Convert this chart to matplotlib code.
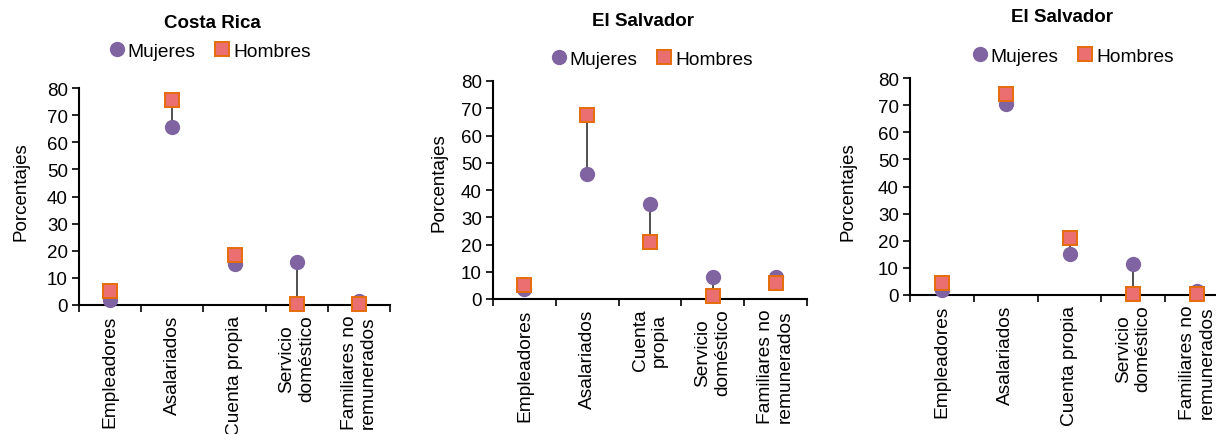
import matplotlib
matplotlib.use("Agg")
import matplotlib.pyplot as plt
from matplotlib.lines import Line2D

plt.rcParams['font.family'] = ['Liberation Sans', 'DejaVu Sans']

# data
categorias_cr = ["Empleadores", "Asalariados", "Cuenta propia", "Servicio\ndoméstico", "Familiares no\nremunerados"]
categorias_es1 = ["Empleadores", "Asalariados", "Cuenta\npropia", "Servicio\ndoméstico", "Familiares no\nremunerados"]
categorias_es2 = ["Empleadores", "Asalariados", "Cuenta propia", "Servicio\ndoméstico", "Familiares no\nremunerados"]

mujeres_cr = [2.0, 65.5, 15.0, 16.0, 1.5]
hombres_cr = [5.0, 75.5, 18.5, 0.5, 0.5]

mujeres_es1 = [3.5, 46.0, 35.0, 8.0, 8.0]
hombres_es1 = [5.0, 67.5, 21.0, 1.0, 6.0]

mujeres_es2 = [2.0, 70.5, 15.0, 11.5, 1.5]
hombres_es2 = [4.5, 74.0, 21.0, 0.5, 0.5]

titulos = ["Costa Rica", "El Salvador", "El Salvador"]
yticks = [0, 10, 20, 30, 40, 50, 60, 70, 80]

C_MUJ = '#8064A2'
C_HOM = '#EB6F70'
C_HOM_EDGE = '#E46C0A'

W, H = 1216, 435
fig = plt.figure(figsize=(W / 100, H / 100), dpi=100)

# panel layout in pixels: left, right, top(y=80), bottom(y=0)
layout = [
    dict(l=79, r=390, t=89, b=306, title=(212, 23), leg=(210, 52), ylab=(21, 192)),
    dict(l=493, r=807, t=82, b=300, title=(643, 21), leg=(652, 60), ylab=(439, 183)),
    dict(l=910, r=1229, t=79, b=296, title=(1062, 17), leg=(1073, 57), ylab=(848, 192)),
]
series = [
    (categorias_cr, mujeres_cr, hombres_cr),
    (categorias_es1, mujeres_es1, hombres_es1),
    (categorias_es2, mujeres_es2, hombres_es2),
]

for p, (cats, muj, hom), titulo in zip(layout, series, titulos):
    ax = fig.add_axes([p['l'] / W, 1 - p['b'] / H, (p['r'] - p['l']) / W, (p['b'] - p['t']) / H])
    x = [i + 0.5 for i in range(len(cats))]

    # linea entre mujeres y hombres
    ax.vlines(x, muj, hom, color='#202020', lw=1.1, zorder=2)
    ax.plot(x, muj, 'o', color=C_MUJ, ms=10, ls='none', clip_on=False, zorder=3)
    ax.plot(x, hom, 's', color=C_HOM, mec=C_HOM_EDGE, mew=1.4, ms=10, ls='none', clip_on=False, zorder=4)

    ax.set_xlim(0, len(cats))
    ax.set_ylim(0, 80)
    ax.set_yticks(yticks)
    ax.set_xticks(range(len(cats) + 1))
    ax.set_xticklabels([])
    ax.set_xticks(x, minor=True)
    ax.set_xticklabels(cats, minor=True, rotation=90, fontsize=13.8, va='top', ha='center')
    ax.tick_params(axis='x', which='minor', length=0, pad=7)
    ax.tick_params(axis='x', which='major', direction='out', length=5, width=1.2)
    ax.tick_params(axis='y', direction='out', length=5, width=1.2, labelsize=13.5, pad=3)

    for s in ['top', 'right']:
        ax.spines[s].set_visible(False)
    for s in ['left', 'bottom']:
        ax.spines[s].set_linewidth(1.5)

    fig.text(p['title'][0] / W, 1 - p['title'][1] / H, titulo, ha='center', va='center',
             fontsize=13.5, fontweight='bold')
    fig.text(p['ylab'][0] / W, 1 - p['ylab'][1] / H, "Porcentajes", rotation=90,
             ha='center', va='center', fontsize=13.5)

    handles = [
        Line2D([], [], marker='o', color=C_MUJ, ls='none', ms=10),
        Line2D([], [], marker='s', color=C_HOM, mec=C_HOM_EDGE, mew=1.4, ls='none', ms=9.5),
    ]
    fig.legend(handles, ["Mujeres", "Hombres"], loc='center',
               bbox_to_anchor=(p['leg'][0] / W, 1 - p['leg'][1] / H),
               ncol=2, frameon=False, fontsize=13.8, handlelength=0.8,
               handletextpad=0.15, columnspacing=1.0, borderpad=0)

fig.savefig("out.png", dpi=100)
